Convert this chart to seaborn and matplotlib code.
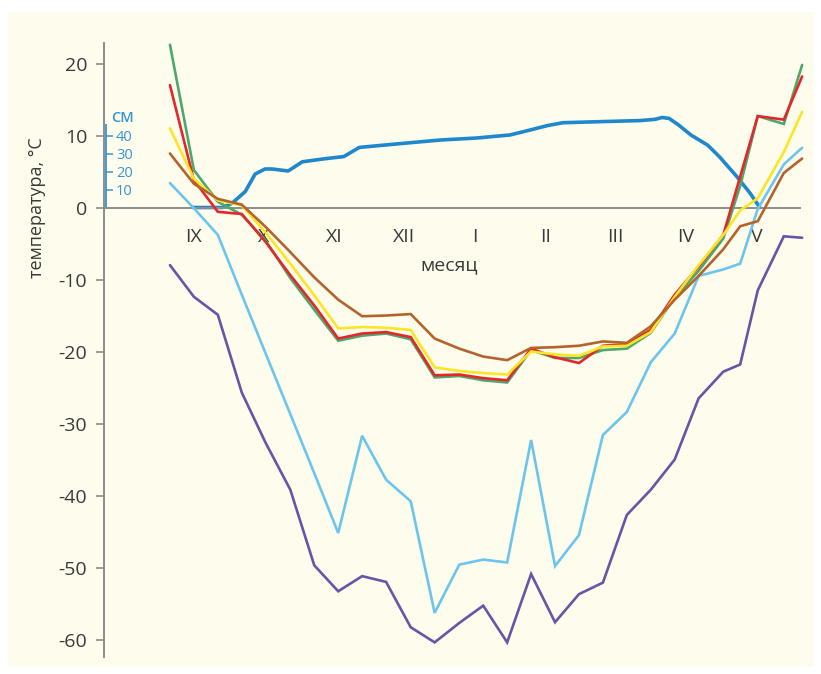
import matplotlib
matplotlib.use("Agg")
import matplotlib.pyplot as plt
from matplotlib.patches import Rectangle
import numpy as np
import pandas as pd
import seaborn as sns

sns.set_style("white")
plt.rcParams["font.family"] = ["Open Sans", "DejaVu Sans"]
plt.rcParams["axes.unicode_minus"] = False

# Months of the cold season, September to May
months = ["IX", "X", "XI", "XII", "I", "II", "III", "IV", "V"]

# Ten-day periods (position in months from 1 September)
decade_x = [0.17, 0.51, 0.85, 1.19, 1.53, 1.88, 2.22, 2.56, 2.90, 3.24,
            3.59, 3.93, 4.28, 4.62, 4.96, 5.30, 5.64, 5.98, 6.32, 6.66,
            7.00, 7.34, 7.68, 8.03, 8.27, 8.52, 8.89, 9.15]

# Temperatures, °C
t_green = [22.6, 5.2, 0.8, -1.0, -4.6, -9.8, -14.2, -18.5, -17.8, -17.5,
           -18.3, -23.6, -23.4, -24.0, -24.3, -19.8, -20.9, -20.9, -19.8, -19.6,
           -17.4, -12.5, -8.8, -4.3, 3.0, 12.7, 11.6, 19.8]
t_red = [17.0, 3.8, -0.6, -0.9, -4.8, -9.4, -13.6, -18.2, -17.5, -17.3,
         -18.0, -23.3, -23.2, -23.7, -24.0, -19.6, -20.8, -21.6, -19.2, -19.0,
         -17.0, -12.1, -8.2, -3.8, 4.3, 12.7, 12.2, 18.2]
t_yellow = [11.0, 4.0, 1.0, 0.3, -3.5, -7.8, -12.2, -16.8, -16.6, -16.7,
            -17.0, -22.2, -22.7, -23.0, -23.2, -20.0, -20.4, -20.6, -19.3, -19.2,
            -17.3, -12.4, -8.0, -3.8, -0.4, 1.3, 7.7, 13.3]
t_brown = [7.5, 3.3, 1.2, 0.4, -2.7, -6.2, -9.7, -12.8, -15.1, -15.0,
           -14.8, -18.2, -19.6, -20.7, -21.2, -19.5, -19.4, -19.2, -18.6, -18.8,
           -16.5, -12.8, -9.5, -5.8, -2.6, -1.9, 4.8, 6.8]
t_lightblue = [3.4, -0.1, -3.8, -12.1, -20.3, -28.7, -36.9, -45.2, -31.7, -37.8,
               -40.8, -56.3, -49.6, -48.9, -49.3, -32.3, -49.8, -45.5, -31.6, -28.4,
               -21.5, -17.5, -9.5, -8.6, -7.8, -0.2, 6.0, 8.3]
t_purple = [-8.0, -12.4, -14.9, -25.7, -32.7, -39.2, -49.7, -53.3, -51.2, -52.0,
            -58.3, -60.4, -57.7, -55.3, -60.4, -50.9, -57.6, -53.7, -52.1, -42.7,
            -39.2, -35.0, -26.5, -22.8, -21.8, -11.5, -4.0, -4.2]

# Snow depth, cm
snow_x = [0.50, 0.91, 1.05, 1.24, 1.38, 1.52, 1.62, 1.85, 2.05, 2.37,
          2.64, 2.86, 3.44, 4.01, 4.52, 5.00, 5.28, 5.53, 5.75, 6.28,
          6.85, 7.06, 7.16, 7.26, 7.39, 7.57, 7.81, 7.98, 8.22, 8.41, 8.55]
snow_cm = [0, 0, 2.3, 8.9, 18.6, 21.4, 21.4, 20.3, 25.4, 27.1,
           28.3, 33.4, 35.5, 37.5, 38.6, 40.3, 43.0, 45.5, 47.1, 47.7,
           48.3, 49.0, 50.0, 49.5, 46.0, 40.3, 34.6, 28.0, 17.3, 8.0, 0]

series = [
    ("t_purple", t_purple, "#6656a6"),
    ("t_lightblue", t_lightblue, "#6cc5ec"),
    ("t_green", t_green, "#4da86c"),
    ("t_red", t_red, "#e3272b"),
    ("t_yellow", t_yellow, "#fbe625"),
    ("t_brown", t_brown, "#b4632c"),
]

CREAM = "#fefcec"
GRAY = "#8e8e8a"
TEXT = "#3a3a3a"
SNOW = "#1f87cb"
SNOW_TXT = "#3496d3"

W, H = 821, 674
fig = plt.figure(figsize=(W / 100, H / 100), dpi=100)
fig.patch.set_facecolor("white")
fig.add_artist(Rectangle((8 / W, 1 - 667 / H), (814 - 8) / W, (667 - 12) / H,
                         transform=fig.transFigure, facecolor=CREAM,
                         edgecolor="none", zorder=-10))

ax = fig.add_axes([104 / W, 1 - 657 / H, (806 - 104) / W, (657 - 43) / H])
ax.set_xlim(-0.767, 9.205)
ax.set_ylim(-62.43, 22.85)
ax.patch.set_visible(False)

# Snow depth on its own scale (40 cm at the height of 10 °C)
ax2 = ax.twinx()
ax2.set_ylim(-62.43 * 4, 22.85 * 4)
ax2.set_zorder(ax.get_zorder() - 1)
ax.set_zorder(ax2.get_zorder() + 1)
sns.lineplot(x=snow_x, y=snow_cm, ax=ax2, color=SNOW, lw=2.6, sort=False,
             solid_joinstyle="round", solid_capstyle="round")

for name, vals, col in series:
    sns.lineplot(x=decade_x, y=vals, ax=ax, color=col, lw=1.9, sort=False,
                 solid_joinstyle="miter")

# Temperature axis
for s in ("top", "right"):
    ax.spines[s].set_visible(False)
ax.spines["left"].set_color(GRAY)
ax.spines["left"].set_linewidth(1.4)
ax.spines["bottom"].set_position(("data", 0))
ax.spines["bottom"].set_bounds(-0.767, 9.12)
ax.spines["bottom"].set_color(GRAY)
ax.spines["bottom"].set_linewidth(1.4)
ax.spines["bottom"].set_zorder(0.5)

ax.set_yticks(range(-60, 21, 10))
ax.set_yticklabels([str(v) for v in range(-60, 21, 10)])
ax.tick_params(axis="y", direction="out", length=6, width=1.2, color=GRAY,
               pad=6, labelsize=14, labelcolor=TEXT)

ax.set_xticks(range(10))
ax.set_xticklabels([])
ax.set_xticks(np.arange(0.5, 9), minor=True)
ax.set_xticklabels(months, minor=True)
ax.tick_params(axis="x", which="major", direction="out", length=5, width=1.2,
               color=GRAY)
ax.tick_params(axis="x", which="minor", length=0, pad=15, labelsize=14,
               labelcolor=TEXT)
ax.set_xlabel("")
ax.set_ylabel("")

# Snow depth axis, drawn next to the temperature axis
for s in ("top", "left", "bottom"):
    ax2.spines[s].set_visible(False)
ax2.spines["right"].set_position(("axes", 0.003))
ax2.spines["right"].set_bounds(0, 46)
ax2.spines["right"].set_color(SNOW_TXT)
ax2.spines["right"].set_linewidth(1.3)
ax2.set_yticks([10, 20, 30, 40])
ax2.tick_params(axis="y", direction="out", length=5, width=1.1, color=SNOW_TXT,
                pad=2, labelsize=10.5, labelcolor=SNOW_TXT)
ax2.set_ylabel("")

fig.text(122 / W, 1 - 117.5 / H, "СМ", color=SNOW_TXT, fontsize=10.5,
         fontweight="semibold", ha="center", va="center")
fig.text(37 / W, 1 - 208 / H, "температура, °C", rotation=90, ha="center",
         va="center", fontsize=13, color=TEXT)
fig.text(449 / W, 1 - 265 / H, "месяц", ha="center", va="center",
         fontsize=14, color=TEXT)

fig.savefig("out.png", dpi=100, facecolor=fig.get_facecolor())
